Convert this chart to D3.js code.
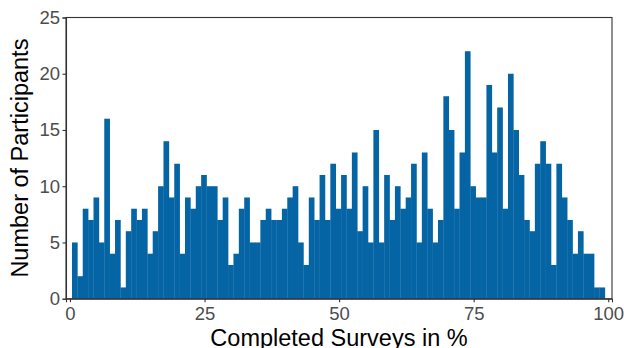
<!DOCTYPE html>
<html>
<head>
<meta charset="utf-8">
<script src="https://cdn.jsdelivr.net/npm/d3@7"></script>
<style>
  html, body { margin: 0; padding: 0; background: #fff; }
  svg { display: block; font-family: "Liberation Sans", Arial, sans-serif; }
</style>
</head>
<body>
<svg id="chart" width="624" height="348"></svg>
<script>
// Histogram of survey completion: one bin per percentage point
const binStart = 0.37;           // left edge of the first bin (in %)
const binWidth = 1;
const counts = [
  5, 2, 8, 7, 9, 5, 16, 4, 7, 1, 6, 8, 7, 8, 4, 6, 10, 14, 9, 12, 4, 9, 8, 10,
  11, 10, 10, 7, 9, 3, 4, 8, 9, 5, 5, 7, 8, 7, 7, 8, 9, 10, 5, 3, 9, 7, 11, 7,
  12, 8, 11, 8, 13, 6, 10, 5, 15, 5, 11, 7, 10, 8, 9, 12, 5, 13, 8, 5, 7, 18, 15, 8,
  13, 22, 10, 9, 9, 19, 13, 17, 8, 20, 15, 11, 7, 6, 12, 14, 12, 3, 12, 9, 7, 4, 6, 4, 4, 1, 1
];
const xTicks = [0, 25, 50, 75, 100];
const yTicks = [0, 5, 10, 15, 20, 25];
const xTitle = "Completed Surveys in %";
const yTitle = "Number of Participants";

const bins = counts.map((n, i) => ({ x0: binStart + i * binWidth, x1: binStart + (i + 1) * binWidth, n }));

const panel = { left: 66, right: 612, top: 17.5, bottom: 298.7 };
const svg = d3.select("#chart");

const x = d3.scaleLinear().domain([-0.74, 100.7]).range([panel.left, panel.right]);
const y = d3.scaleLinear().domain([0, 25]).range([panel.bottom, panel.top]);

// bars
svg.append("g")
  .selectAll("rect")
  .data(bins)
  .join("rect")
  .attr("x", d => x(d.x0))
  .attr("width", d => x(d.x1) - x(d.x0) + 0.3)
  .attr("y", d => y(d.n))
  .attr("height", d => y(0) - y(d.n))
  .attr("fill", "#0564a4");

// panel border
svg.append("rect")
  .attr("x", panel.left).attr("y", panel.top)
  .attr("width", panel.right - panel.left).attr("height", panel.bottom - panel.top)
  .attr("fill", "none").attr("stroke", "#333").attr("stroke-width", 1.1);

// axes
const xAxis = svg.append("g")
  .attr("transform", `translate(0,${panel.bottom})`)
  .call(d3.axisBottom(x).tickValues(xTicks).tickSize(3.5).tickPadding(4.5).tickFormat(d3.format("d")));
const yAxis = svg.append("g")
  .attr("transform", `translate(${panel.left},0)`)
  .call(d3.axisLeft(y).tickValues(yTicks).tickSize(3.5).tickPadding(2.5).tickFormat(d3.format("d")));

[xAxis, yAxis].forEach(g => {
  g.select(".domain").attr("stroke", "#333").attr("stroke-width", 1.1);
  g.selectAll(".tick line").attr("stroke", "#333").attr("stroke-width", 1.1);
  g.selectAll(".tick text")
    .attr("fill", "#4d4d4d")
    .style("font-size", "18.5px")
    .style("font-family", "'Liberation Sans', Arial, sans-serif");
});

// axis titles
svg.append("text")
  .attr("x", (panel.left + panel.right) / 2)
  .attr("y", 346)
  .attr("text-anchor", "middle")
  .style("font-size", "23.5px")
  .attr("fill", "#000")
  .text(xTitle);

svg.append("text")
  .attr("transform", `translate(28,${(panel.top + panel.bottom) / 2}) rotate(-90)`)
  .attr("text-anchor", "middle")
  .style("font-size", "23.5px")
  .attr("fill", "#000")
  .text(yTitle);
</script>
</body>
</html>
